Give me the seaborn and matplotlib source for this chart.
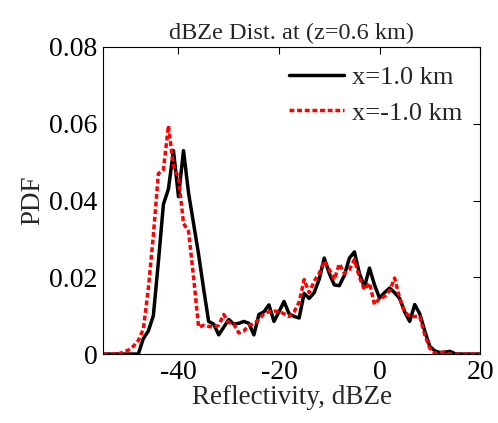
import numpy as np
import pandas as pd
import matplotlib
matplotlib.use("Agg")
import matplotlib.pyplot as plt
import seaborn as sns

# Reflectivity bins (dBZe)
dbz = list(range(-55, 21))

pdf_pos = [0, 0, 0, 0, 0, 0, 0,             # -55..-49
           0, 0.004, 0.006, 0.010, 0.024, 0.039, 0.043, 0.053, 0.041, 0.053,   # -48..-39
           0.042, 0.034, 0.026, 0.017, 0.0085, 0.0078, 0.005, 0.007, 0.009, 0.0078,  # -38..-29
           0.008, 0.0085, 0.008, 0.005, 0.0103, 0.011, 0.0128, 0.0085, 0.011, 0.0137,  # -28..-19
           0.0105, 0.0098, 0.0094, 0.0158, 0.0145, 0.016, 0.0195, 0.025, 0.021, 0.018,  # -18..-9
           0.0178, 0.0205, 0.025, 0.0266, 0.021, 0.0175, 0.0224, 0.018, 0.0146,  # -8..0
           0.016, 0.0172, 0.016, 0.0145, 0.011, 0.0085, 0.0129, 0.0105, 0.006, 0.002,  # 1..10
           0.0008, 0.0004, 0.0005, 0.0007, 0.0001, 0, 0, 0, 0, 0]  # 11..20

pdf_neg = [0, 0, 0, 0,                      # -55..-52
           0.0005, 0.001, 0.002, 0.0035, 0.0065, 0.017, 0.031, 0.047, 0.048, 0.0595,  # -51..-42
           0.049, 0.046, 0.034, 0.032, 0.020, 0.007, 0.0075, 0.0072, 0.007, 0.0075,  # -41..-32
           0.0103, 0.0082, 0.0078, 0.0055, 0.006, 0.0075, 0.0078, 0.009, 0.0105, 0.011,  # -31..-22
           0.0112, 0.0111, 0.0105, 0.0098, 0.011, 0.0135, 0.0194, 0.016, 0.019, 0.021,  # -21..-12
           0.0242, 0.022, 0.0194, 0.0235, 0.021, 0.022, 0.0246, 0.020, 0.0168, 0.0185,  # -11..-2
           0.0129, 0.0145, 0.015, 0.0165, 0.0198, 0.0145, 0.011, 0.0098, 0.0098, 0.0098,  # -1..8
           0.005, 0.0015, 0.0002, 0.0003, 0.0005, 0, 0, 0, 0, 0, 0, 0]  # 9..20

labels = ["x=1.0 km", "x=-1.0 km"]

df = pd.concat([
    pd.DataFrame({"dbz": dbz, "pdf": pdf_pos, "series": labels[0]}),
    pd.DataFrame({"dbz": dbz, "pdf": pdf_neg, "series": labels[1]}),
])

sns.set_style("white")
plt.rcParams["font.family"] = ["Liberation Serif", "DejaVu Serif"]
plt.rcParams["axes.unicode_minus"] = False

fig = plt.figure(figsize=(4.98, 4.23), dpi=100)
ax = fig.add_axes([0.207, 0.163, 0.757, 0.726])

sns.lineplot(data=df, x="dbz", y="pdf", hue="series", style="series",
             hue_order=labels, style_order=labels,
             palette={labels[0]: "black", labels[1]: "#ff0000"},
             dashes={labels[0]: "", labels[1]: (1.4, 0.8)},
             linewidth=2.5, ax=ax)

ax.set_xlim(-55, 20)
ax.set_ylim(0, 0.08)
ax.set_xticks([-40, -20, 0, 20])
ax.set_yticks([0, 0.02, 0.04, 0.06, 0.08])
ax.set_yticklabels(["0", "0.02", "0.04", "0.06", "0.08"])
ax.tick_params(direction="in", top=True, right=True, length=5, width=0.8,
               labelsize=20, colors="black", pad=4)
for s in ax.spines.values():
    s.set_color("black")
    s.set_linewidth(0.8)

ax.set_xlabel("Reflectivity, dBZe", fontsize=19.5, labelpad=0)
ax.set_ylabel("PDF", fontsize=19.5, labelpad=3)
ax.set_title("dBZe Dist. at (z=0.6 km)", fontsize=17.5, pad=6)

leg = ax.legend(loc="upper right", frameon=False, fontsize=19,
                handlelength=2.1, handletextpad=0.3, labelspacing=0.45,
                borderaxespad=0.0, borderpad=0.0,
                bbox_to_anchor=(0.954, 0.939))

fig.savefig("out.png", dpi=100)
